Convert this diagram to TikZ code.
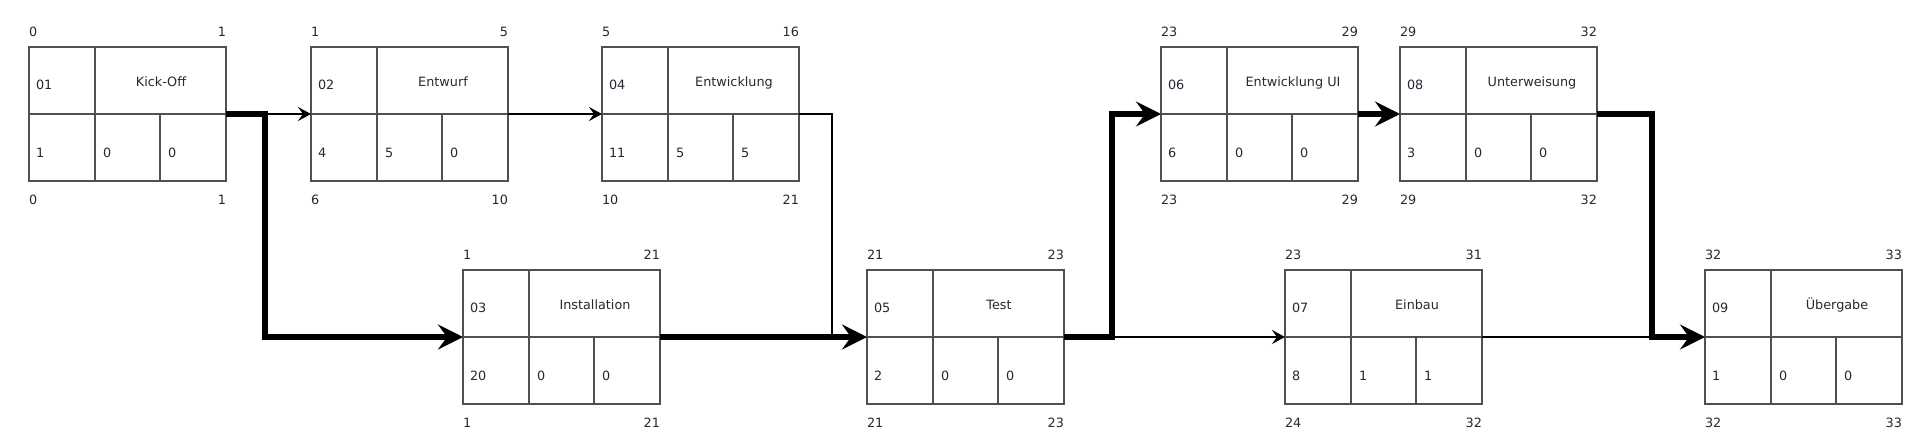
\documentclass[tikz,border=0pt]{standalone}
\usepackage{fontspec}
\setmainfont{DejaVu Sans}
\usetikzlibrary{arrows.meta,calc}
\definecolor{boxgray}{RGB}{80,80,80}
\definecolor{txtcol}{RGB}{40,40,50}
\tikzset{
 actnode/.style={draw=boxgray, line width=0.6pt, minimum width=98.5pt, minimum height=67pt, inner sep=0pt, outer sep=0pt, fill=white},
 cellline/.style={draw=boxgray, line width=0.6pt},
 txt/.style={inner sep=0pt, outer sep=0pt, text=txtcol, font=\fontsize{6.4pt}{7pt}\selectfont},
 thinlink/.style={draw=black, line width=1pt, line join=miter},
 thicklink/.style={draw=black, line width=2.7pt, line join=miter},
 thintip/.style={-{Stealth[length=6.5pt,width=7pt,inset=2.5pt]}},
 thicktip/.style={-{Stealth[length=12.5pt,width=12.5pt,inset=4.5pt]}},
}
\newcommand{\actbox}[8]{%
 \node[actnode] (#1) at ({#2+98.5},{#3+67}) {};
 \draw[cellline] (#1.west) -- (#1.east);
 \draw[cellline] ($(#1.north west)+(66,0)$) -- ($(#1.south west)+(66,0)$);
 \draw[cellline] ($(#1.west)+(131,0)$) -- ($(#1.south west)+(131,0)$);
 \node[txt, anchor=base west] (#1-id) at ($(#1.north west)+(7,42)$) {#4};
 \node[txt, anchor=base] (#1-name) at ($(#1.north west)+(132,39.5)$) {#5};
 \node[txt, anchor=base west] (#1-d) at ($(#1.north west)+(7,110)$) {#6};
 \node[txt, anchor=base west] (#1-tf) at ($(#1.north west)+(74,110)$) {#7};
 \node[txt, anchor=base west] (#1-ff) at ($(#1.north west)+(139,110)$) {#8};
}
\newcommand{\actdates}[5]{%
 \node[txt, anchor=base west] (#1-es) at ($(#1.north west)+(0,-11)$) {#2};
 \node[txt, anchor=base east] (#1-ef) at ($(#1.north east)+(0,-11)$) {#3};
 \node[txt, anchor=base west] (#1-ls) at ($(#1.south west)+(0,23)$) {#4};
 \node[txt, anchor=base east] (#1-lf) at ($(#1.south east)+(0,23)$) {#5};
}
\begin{document}
\begin{tikzpicture}[x=0.5pt,y=-0.5pt]
\fill[white] (0,0) rectangle (1920,445);
\useasboundingbox (0,0) rectangle (1920,445);

\actbox{n01}{29}{47}{01}{Kick-Off}{1}{0}{0}
\actdates{n01}{0}{1}{0}{1}
\actbox{n02}{311}{47}{02}{Entwurf}{4}{5}{0}
\actdates{n02}{1}{5}{6}{10}
\actbox{n04}{602}{47}{04}{Entwicklung}{11}{5}{5}
\actdates{n04}{5}{16}{10}{21}
\actbox{n06}{1161}{47}{06}{Entwicklung UI}{6}{0}{0}
\actdates{n06}{23}{29}{23}{29}
\actbox{n08}{1400}{47}{08}{Unterweisung}{3}{0}{0}
\actdates{n08}{29}{32}{29}{32}
\actbox{n03}{463}{270}{03}{Installation}{20}{0}{0}
\actdates{n03}{1}{21}{1}{21}
\actbox{n05}{867}{270}{05}{Test}{2}{0}{0}
\actdates{n05}{21}{23}{21}{23}
\actbox{n07}{1285}{270}{07}{Einbau}{8}{1}{1}
\actdates{n07}{23}{31}{24}{32}
\actbox{n09}{1705}{270}{09}{Übergabe}{1}{0}{0}
\actdates{n09}{32}{33}{32}{33}

\coordinate (j1) at (265,114);
\coordinate (j2) at (832,337);
\coordinate (j3) at (1112,337);
\coordinate (j4) at (1652,337);

\draw[thinlink, thintip] (j1) -- (n02.west);
\draw[thicklink, thicktip] (n01.east) -- (j1) |- (n03.west);
\draw[thinlink, thintip] (n02.east) -- (n04.west);
\draw[thinlink] (n04.east) -| (j2);
\draw[thicklink, thicktip] (n03.east) -- (n05.west);
\draw[thinlink, thintip] (j3) -- (n07.west);
\draw[thicklink, thicktip] (n05.east) -- (j3) |- (n06.west);
\draw[thicklink, thicktip] (n06.east) -- (n08.west);
\draw[thinlink] (n07.east) -- (j4);
\draw[thicklink, thicktip] (n08.east) -| (j4) -- (n09.west);
\end{tikzpicture}
\end{document}
